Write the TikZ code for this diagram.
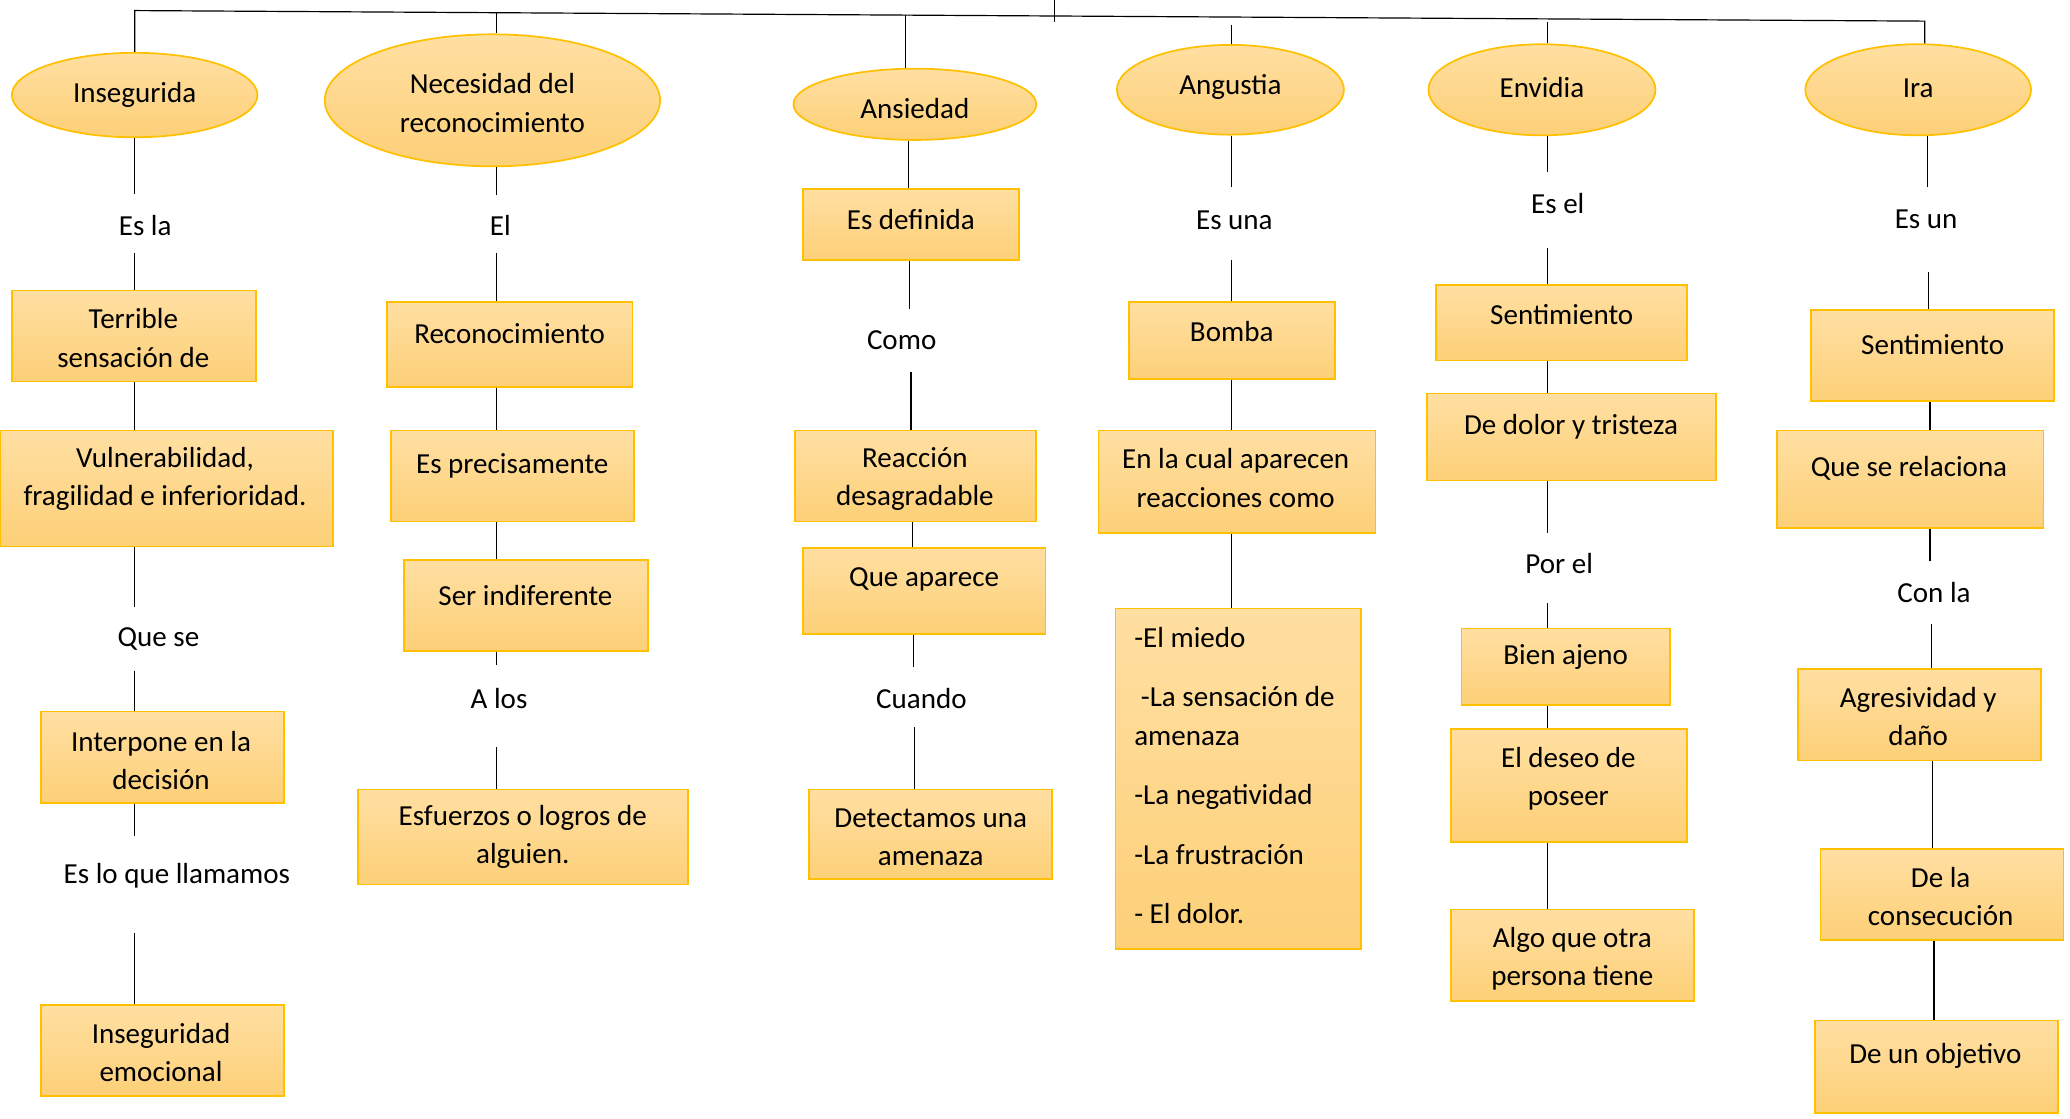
\documentclass[tikz,border=0pt]{standalone}
\usepackage{fontspec}
\setmainfont{Carlito}
\usetikzlibrary{shapes.geometric}
\definecolor{gold}{RGB}{255,192,0}
\definecolor{fillA}{RGB}{255,223,162}
\definecolor{fillB}{RGB}{253,208,120}
\tikzset{
 con/.style={draw=black, line width=0.9pt},
 boxst/.style={draw=gold, line width=1.3pt, top color=fillA, bottom color=fillB, rectangle, inner sep=0pt},
 ellst/.style={draw=gold, line width=1.3pt, top color=fillA, bottom color=fillB, ellipse, inner sep=0pt},
 txt/.style={font=\fontsize{22}{29}\selectfont, align=center, inner sep=0pt},
}
\newcommand\mkbox[5]{\node[boxst, minimum width={(#4-#2)*1pt}, minimum height={(#5-#3)*1pt}] (#1) at ({(#2+#4)/2},{(#3+#5)/2}) {};}
\begin{document}
\begin{tikzpicture}[x=1pt,y=-1pt]
\useasboundingbox (0,0) rectangle (1568,847);
% ellipses
\node[ellst, minimum width=186pt, minimum height=64pt] (e1) at (102,72) {};
\node[txt] (y1) at (102,72) {Insegurida};
\node[ellst, minimum width=254pt, minimum height=100pt] (e2) at (373,76) {};
\node[txt] (y2) at (373,78) {Necesidad del\\reconocimiento};
\node[ellst, minimum width=184pt, minimum height=54pt] (e3) at (693,79) {};
\node[txt] (y3) at (693,82) {Ansiedad};
\node[ellst, minimum width=172pt, minimum height=68pt] (e4) at (932,68) {};
\node[txt] (y4) at (932,66) {Angustia};
\node[ellst, minimum width=172pt, minimum height=69pt] (e5) at (1168,68) {};
\node[txt] (y5) at (1168,66) {Envidia};
\node[ellst, minimum width=171pt, minimum height=69pt] (e6) at (1453,68) {};
\node[txt] (y6) at (1453,67) {Ira};
% top bar
\coordinate (tl) at (102,8);
\coordinate (tr) at (1458,16);
\path (tl) -- (tr) coordinate[pos=0.2021] (d2) coordinate[pos=0.4307] (d3);
\coordinate (tk1) at (799,0);
\coordinate (tk2) at (799,17);
\coordinate (g40) at (933,19);
\coordinate (g50) at (1172,17);
\draw[con] (e1.north -| tl) -- (tl) -- (tr) -- (e6.north -| tr);
\draw[con] (d2) -- (e2.north -| d2);
\draw[con] (d3) -- (e3.north -| d3);
\draw[con] (tk1) -- (tk2);
\draw[con] (g40) -- (e4.north -| g40);
\draw[con] (g50) -- (e5.north -| g50);
% column 1
\mkbox{b11}{9}{220}{194}{289}
\node[txt] (x11) at (101,256) {Terrible\\sensación de};
\mkbox{b12}{0}{326}{252}{414}
\node[txt] (x12) at (125,363) {Vulnerabilidad,\\fragilidad e inferioridad.};
\mkbox{b13}{31}{539}{215}{608}
\node[txt] (x13) at (122,576) {Interpone en la\\decisión};
\mkbox{b14}{31}{761}{215}{830}
\node[txt] (x14) at (122,797) {Inseguridad\\emocional};
\node[txt] (t11) at (110,171) {Es la};
\node[txt] (t12) at (120,484) {Que se};
\node[txt] (t13) at (134,663) {Es lo que llamamos};
\coordinate (g11a) at (102,147); \coordinate (g11b) at (102,192);
\coordinate (g12a) at (102,460); \coordinate (g12b) at (102,508);
\coordinate (g13a) at (102,633); \coordinate (g13b) at (102,707);
\draw[con] (e1.south -| g11a) -- (g11a);
\draw[con] (g11b) -- (b11.north -| g11b);
\draw[con] (b11.south -| g11a) -- (b12.north -| g11a);
\draw[con] (b12.south -| g12a) -- (g12a);
\draw[con] (g12b) -- (b13.north -| g12b);
\draw[con] (b13.south -| g13a) -- (g13a);
\draw[con] (g13b) -- (b14.north -| g13b);
% column 2
\mkbox{b21}{293}{229}{479}{293}
\node[txt] (x21) at (386,253) {Reconocimiento};
\mkbox{b22}{296}{326}{480}{395}
\node[txt] (x22) at (388,353) {Es precisamente};
\mkbox{b23}{306}{424}{491}{493}
\node[txt] (x23) at (398,451) {Ser indiferente};
\mkbox{b24}{271}{598}{521}{670}
\node[txt] (x24) at (396,634) {Esfuerzos o logros de\\alguien.};
\node[txt] (t21) at (379,171) {El};
\node[txt] (t22) at (378,529) {A los};
\coordinate (g21a) at (376,148); \coordinate (g21b) at (376,192);
\coordinate (g22a) at (376,504); \coordinate (g22b) at (376,566);
\draw[con] (e2.south -| g21a) -- (g21a);
\draw[con] (g21b) -- (b21.north -| g21b);
\draw[con] (b21.south -| g21a) -- (b22.north -| g21a);
\draw[con] (b22.south -| g21a) -- (b23.north -| g21a);
\draw[con] (b23.south -| g22a) -- (g22a);
\draw[con] (g22b) -- (b24.north -| g22b);
% column 3
\mkbox{b31}{608}{143}{772}{197}
\node[txt] (x31) at (690,166) {Es definida};
\mkbox{b32}{602}{326}{785}{395}
\node[txt] (x32) at (693,363) {Reacción\\desagradable};
\mkbox{b33}{608}{415}{792}{480}
\node[txt] (x33) at (700,439) {Que aparece};
\mkbox{b34}{613}{598}{797}{666}
\node[txt] (x34) at (705,634) {Detectamos una\\amenaza};
\node[txt] (t31) at (683,258) {Como};
\node[txt] (t32) at (698,529) {Cuando};
\coordinate (g30) at (688,0);
\coordinate (g31a) at (689,234); \coordinate (g31b) at (690,282);
\coordinate (g33) at (691,0);
\coordinate (g32a) at (692,505); \coordinate (g32b) at (693,551);
\draw[con] (e3.south -| g30) -- (b31.north -| g30);
\draw[con] (b31.south -| g31a) -- (g31a);
\draw[con] (g31b) -- (b32.north -| g31b);
\draw[con] (b32.south -| g33) -- (b33.north -| g33);
\draw[con] (b33.south -| g32a) -- (g32a);
\draw[con] (g32b) -- (b34.north -| g32b);
% column 4
\mkbox{b41}{855}{229}{1011}{287}
\node[txt] (x41) at (933,251) {Bomba};
\mkbox{b42}{832}{326}{1042}{404}
\node[txt] (x42) at (936,362) {En la cual aparecen\\reacciones como};
\mkbox{b43}{845}{461}{1031}{719}
\node[txt, align=left, anchor=north west] (x43) at (859,475) {-El miedo\\[16pt]\hspace*{5pt}-La sensación de\\amenaza\\[16pt]-La negatividad\\[16pt]-La frustración\\[16pt]- El dolor.};
\node[txt] (t41) at (935,167) {Es una};
\coordinate (g41a) at (933,142); \coordinate (g41b) at (933,197);
\draw[con] (e4.south -| g41a) -- (g41a);
\draw[con] (g41b) -- (b41.north -| g41b);
\draw[con] (b41.south -| g41a) -- (b42.north -| g41a);
\draw[con] (b42.south -| g41a) -- (b43.north -| g41a);
% column 5
\mkbox{b51}{1088}{216}{1278}{273}
\node[txt] (x51) at (1183,238) {Sentimiento};
\mkbox{b52}{1081}{298}{1300}{364}
\node[txt] (x52) at (1190,323) {De dolor y tristeza};
\mkbox{b53}{1107}{476}{1265}{534}
\node[txt] (x53) at (1186,498) {Bien ajeno};
\mkbox{b54}{1099}{552}{1278}{638}
\node[txt] (x54) at (1188,590) {El deseo de\\poseer};
\mkbox{b55}{1099}{689}{1283}{758}
\node[txt] (x55) at (1191,726) {Algo que otra\\persona tiene};
\node[txt] (t51) at (1180,154) {Es el};
\node[txt] (t52) at (1181,427) {Por el};
\coordinate (g51a) at (1172,130); \coordinate (g51b) at (1172,188);
\coordinate (g52a) at (1172,404); \coordinate (g52b) at (1172,457);
\draw[con] (e5.south -| g51a) -- (g51a);
\draw[con] (g51b) -- (b51.north -| g51b);
\draw[con] (b51.south -| g51a) -- (b52.north -| g51a);
\draw[con] (b52.south -| g52a) -- (g52a);
\draw[con] (g52b) -- (b53.north -| g52b);
\draw[con] (b53.south -| g52a) -- (b54.north -| g52a);
\draw[con] (b54.south -| g52a) -- (b55.north -| g52a);
% column 6
\mkbox{b61}{1372}{235}{1556}{304}
\node[txt] (x61) at (1464,261) {Sentimiento};
\mkbox{b62}{1346}{326}{1548}{400}
\node[txt] (x62) at (1446,355) {Que se relaciona};
\mkbox{b63}{1362}{507}{1546}{576}
\node[txt] (x63) at (1453,543) {Agresividad y\\daño};
\mkbox{b64}{1379}{643}{1563}{712}
\node[txt] (x64) at (1470,679) {De la\\consecución};
\mkbox{b65}{1375}{773}{1559}{843}
\node[txt] (x65) at (1466,800) {De un objetivo};
\node[txt] (t61) at (1459,166) {Es un};
\node[txt] (t62) at (1465,449) {Con la};
\coordinate (g61a) at (1460,142); \coordinate (g61b) at (1461,206);
\coordinate (g60) at (1462,0);
\coordinate (g62a) at (1462,425); \coordinate (g62b) at (1463,473);
\coordinate (g63) at (1464,0);
\coordinate (g64) at (1465,0);
\draw[con] (e6.south -| g61a) -- (g61a);
\draw[con] (g61b) -- (b61.north -| g61b);
\draw[con] (b61.south -| g60) -- (b62.north -| g60);
\draw[con] (b62.south -| g62a) -- (g62a);
\draw[con] (g62b) -- (b63.north -| g62b);
\draw[con] (b63.south -| g63) -- (b64.north -| g63);
\draw[con] (b64.south -| g64) -- (b65.north -| g64);
\end{tikzpicture}
\end{document}
